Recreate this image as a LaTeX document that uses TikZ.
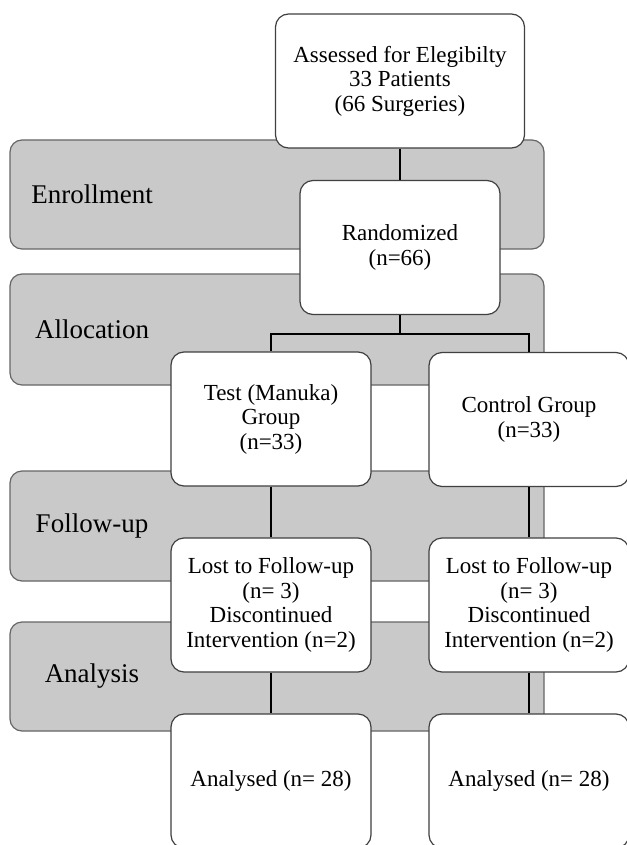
\documentclass[tikz,border=0pt]{standalone}
\usepackage{fontspec}
\setmainfont{Liberation Serif}

\tikzset{
  phase/.style={draw=black!60, line width=1.2pt, fill=black!21, rounded corners=12pt},
  phaselabel/.style={font=\fontsize{27}{30}\selectfont},
  flowbox/.style={draw=black!75, line width=1.2pt, fill=white, rounded corners=13pt,
    minimum width=200pt, minimum height=134pt, inner sep=2pt, align=center,
    font=\fontsize{23}{24.5}\selectfont},
  link/.style={line width=2.5pt, black},
}

\begin{document}
\begin{tikzpicture}[x=1pt, y=-1pt]
\useasboundingbox[fill=white] (0,0) rectangle (626,845);
% phase bands
\foreach \name/\top/\bot [count=\n] in {
Enrollment/140/249,
Allocation/274/385,
Follow-up/471/581,
Analysis/622/731} {
\draw[phase] (10,\top) rectangle (544,\bot);
\node[phaselabel] (phase\n) at (92,{(\top+\bot)/2}) {\name};
}
% boxes
\node[flowbox, minimum width=249pt] (assessed) at (400,81) {Assessed for Elegibilty\\33 Patients\\(66 Surgeries)};
\node[flowbox] (random) at (400,247.5) {Randomized\\(n=66)};
\node[flowbox] (test) at (271,419) {Test (Manuka)\\Group\\(n=33)};
\node[flowbox] (control) at (529,419.5) {Control Group\\(n=33)};
\foreach \side/\x in {test/271, control/529} {
\node[flowbox] (lost\side) at (\x,605) {Lost to Follow-up\\(n= 3)\\Discontinued\\Intervention (n=2)};
\node[flowbox] (analysed\side) at (\x,781) {Analysed (n= 28)};
}
% connectors
\coordinate (split) at (400,334);
\draw[link] (assessed) -- (random);
\draw[link] (random) -- (split) -| (test);
\draw[link] (split) -| (control);
\foreach \side in {test, control} {
\draw[link] (\side) -- (lost\side);
\draw[link] (lost\side) -- (analysed\side);
}
\end{tikzpicture}
\end{document}
